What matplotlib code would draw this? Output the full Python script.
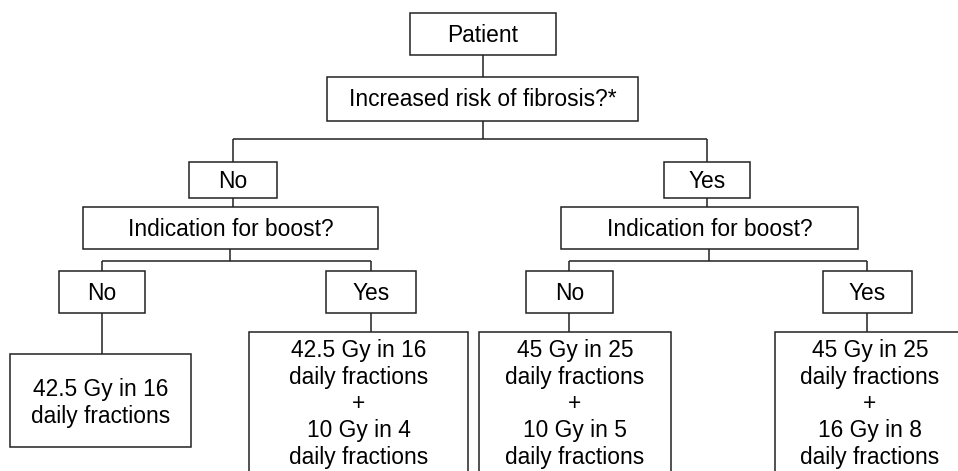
import matplotlib
matplotlib.use("Agg")
import matplotlib.pyplot as plt
from matplotlib.patches import Rectangle

plt.rcParams['font.family'] = ['Liberation Sans', 'DejaVu Sans']

# Text of the flowchart
root_label = "Patient"
question_1 = "Increased risk of fibrosis?*"
branch_labels = ["No", "Yes"]
question_2 = "Indication for boost?"
sub_labels = ["No", "Yes", "No", "Yes"]
regimens = [
    "42.5 Gy in 16\ndaily fractions",
    "42.5 Gy in 16\ndaily fractions\n+\n10 Gy in 4\ndaily fractions",
    "45 Gy in 25\ndaily fractions\n+\n10 Gy in 5\ndaily fractions",
    "45 Gy in 25\ndaily fractions\n+\n16 Gy in 8\ndaily fractions",
]

# Layout, in pixels (x0, y0, x1, y1)
root_box = (410, 13, 556, 55)
q1_box = (327, 77, 638, 121)
branch_boxes = [(189, 162, 277, 198), (664, 162, 750, 198)]
q2_boxes = [(83, 207, 378, 249), (561, 207, 858, 249)]
sub_boxes = [(59, 271, 145, 313), (326, 271, 416, 313),
             (526, 271, 613, 313), (823, 271, 912, 313)]
result_boxes = [(10, 354, 191, 447), (249, 332, 468, 480),
                (479, 332, 671, 480), (775, 332, 965, 480)]
result_text_y = [403, 404, 404, 404]

LW = 1.1
COL = '#222222'
FS = 16.4

fig = plt.figure(figsize=(9.58, 4.71), dpi=100)
ax = fig.add_axes([0, 0, 1, 1])
ax.set_xlim(0, 958)
ax.set_ylim(471, 0)
ax.axis('off')


def box(b, text, ty=None):
    x0, y0, x1, y1 = b
    ax.add_patch(Rectangle((x0, y0), x1 - x0, y1 - y0, facecolor='white',
                           edgecolor=COL, lw=LW, zorder=2))
    if ty is None:
        ty = (y0 + y1) / 2 + 1
    ax.text((x0 + x1) / 2, ty, text, ha='center', va='center', fontsize=FS,
            color='black', linespacing=1.21, zorder=3)


def line(xs, ys):
    ax.plot(xs, ys, color=COL, lw=LW, solid_capstyle='butt', zorder=1)


def cx(b):
    return (b[0] + b[2]) / 2


# connectors
line([483, 483], [root_box[3], q1_box[1]])
line([483, 483], [q1_box[3], 139])
line([cx(branch_boxes[0]), cx(branch_boxes[1])], [139, 139])
for bb, qb in zip(branch_boxes, q2_boxes):
    line([cx(bb), cx(bb)], [139, bb[1]])
    line([cx(bb), cx(bb)], [bb[3], qb[1]])
for i, qb in enumerate(q2_boxes):
    left, right = sub_boxes[2 * i], sub_boxes[2 * i + 1]
    line([cx(qb), cx(qb)], [qb[3], 261])
    line([cx(left), cx(right)], [261, 261])
    line([cx(left), cx(left)], [261, left[1]])
    line([cx(right), cx(right)], [261, right[1]])
for sb, rb in zip(sub_boxes, result_boxes):
    line([cx(sb), cx(sb)], [sb[3], rb[1]])

# boxes
box(root_box, root_label)
box(q1_box, question_1)
for b, t in zip(branch_boxes, branch_labels):
    box(b, t)
for b in q2_boxes:
    box(b, question_2)
for b, t in zip(sub_boxes, sub_labels):
    box(b, t)
for b, t, ty in zip(result_boxes, regimens, result_text_y):
    box(b, t, ty)

fig.savefig("out.png", dpi=100, facecolor='white')
